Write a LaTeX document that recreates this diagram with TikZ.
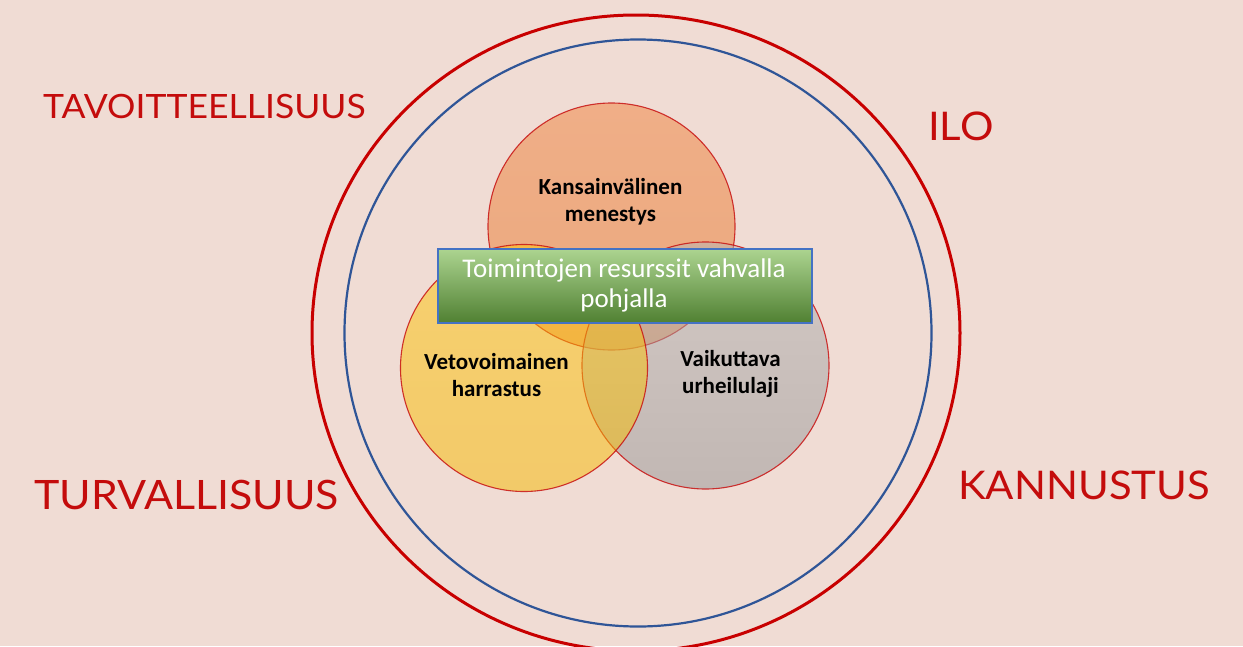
\documentclass[tikz,border=0pt]{standalone}
\usepackage{fontspec}
\usetikzlibrary{shapes.geometric}
\setmainfont{Carlito}
\newfontfamily\labfont[FakeStretch=1.06]{Lato}
\definecolor{bg}{RGB}{240,220,212}
\definecolor{labred}{RGB}{196,12,12}
\definecolor{ringred}{RGB}{200,0,0}
\definecolor{ringblue}{RGB}{47,85,151}
\definecolor{vline}{RGB}{200,20,20}
\definecolor{orA}{RGB}{240,130,60}
\definecolor{orB}{RGB}{232,118,40}
\definecolor{grA}{RGB}{182,182,182}
\definecolor{grB}{RGB}{148,148,148}
\definecolor{yeA}{RGB}{255,198,10}
\definecolor{yeB}{RGB}{245,185,0}
\definecolor{gA}{RGB}{172,212,144}
\definecolor{gB}{RGB}{116,178,74}
\definecolor{gC}{RGB}{80,128,50}
\definecolor{boxblue}{RGB}{68,114,196}
\begin{document}
\begin{tikzpicture}[x=1pt,y=-1pt,
  lab/.style={text=labred, font=\labfont\fontsize{40.5}{48}\selectfont, anchor=base west, inner sep=0pt},
  venn/.style={circle, inner sep=0pt, minimum size=247pt, draw=vline, line width=1.1pt, fill opacity=0.5, draw opacity=0.85},
  vtext/.style={font=\bfseries\fontsize{23}{27}\selectfont, align=center, inner sep=0pt, text=black},
  ring/.style={inner sep=0pt},
]
\useasboundingbox (0,0) rectangle (1243,646);
\fill[bg] (0,0) rectangle (1243,646);
\begin{scope}
\clip (0,0) rectangle (1243,646);
\node[ring, ellipse, draw=ringred, line width=3pt, minimum width=648pt, minimum height=636pt] (outer) at (636,333) {};
\node[ring, circle, draw=ringblue, line width=2.2pt, minimum size=587pt] (inner) at (638,333) {};
\end{scope}
\node[venn, top color=orA, bottom color=orB] (kv) at (611.5,226.5) {};
\node[venn, top color=grA, bottom color=grB] (vu) at (705.5,365.5) {};
\node[venn, top color=yeA, bottom color=yeB] (vh) at (524,368) {};
\node[vtext] (t1) at (610.5,202.1) {\strut Kansainvälinen\\menestys\strut};
\node[vtext] (t2) at (496.5,377.1) {\strut Vetovoimainen\\harrastus\strut};
\node[vtext] (t3) at (730.5,374.1) {\strut Vaikuttava\\urheilulaji\strut};
\node[draw=boxblue, line width=2pt, top color=gA, middle color=gB, bottom color=gC, minimum width=374pt, minimum height=74pt, inner sep=0pt] (box) at (625,286) {};
\node[font=\fontsize{27}{30}\selectfont, text=white, align=center, inner sep=0pt] (bt) at (624,286) {\strut Toimintojen resurssit vahvalla\\pohjalla\strut};
\node[lab, font=\labfont\fontsize{33.5}{40}\selectfont] (tav) at (43,118) {TAVOITTEELLISUUS};
\node[lab] (tur) at (34,509) {TURVALLISUUS};
\node[lab, font=\labfont\fontsize{39.5}{46}\selectfont] (ilo) at (928,140) {ILO};
\node[lab, font=\labfont\fontsize{39.5}{46}\selectfont] (kan) at (958,499) {KANNUSTUS};
\end{tikzpicture}
\end{document}
